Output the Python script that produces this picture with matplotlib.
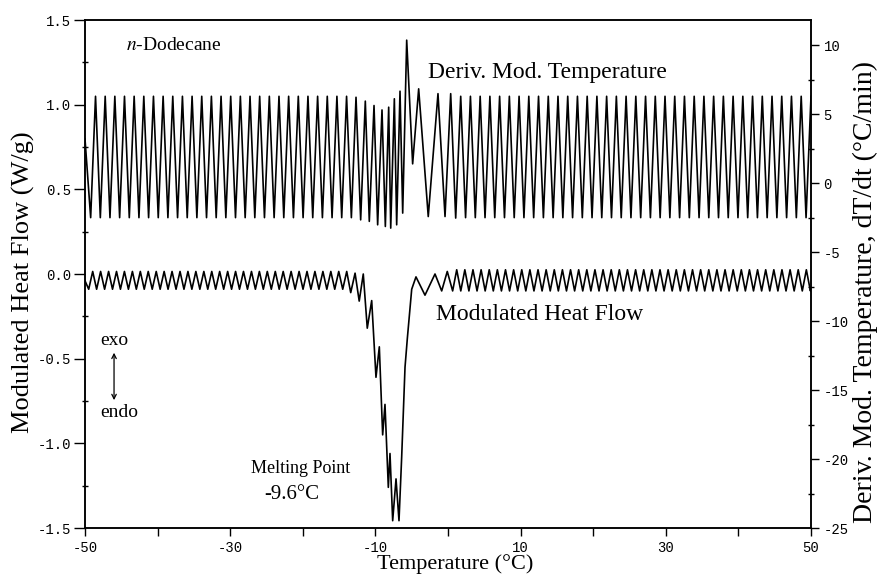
import matplotlib
matplotlib.use("Agg")
import matplotlib.pyplot as plt
from matplotlib.ticker import MultipleLocator, FixedLocator, FuncFormatter

# ---------------- data ----------------
# Deriv. Mod. Temperature (deg C/min, right axis): extrema in order
dmt_T = [
    -50.00,
    -49.22, -48.55, -47.89, -47.22, -46.56, -45.89, -45.23, -44.56, -43.90, -43.23,
    -42.57, -41.90, -41.24, -40.57, -39.91, -39.24, -38.58, -37.91, -37.25, -36.58,
    -35.92, -35.25, -34.59, -33.92, -33.26, -32.59, -31.93, -31.26, -30.60, -29.93,
    -29.27, -28.60, -27.94, -27.27, -26.61, -25.94, -25.28, -24.61, -23.95, -23.28,
    -22.62, -21.95, -21.29, -20.62, -19.96, -19.29, -18.63, -17.96, -17.30, -16.63,
    -15.97, -15.30, -14.64, -13.97, -13.31,
    -12.67, -12.03, -11.39, -10.84, -10.19, -9.69, -9.09, -8.63, -8.17, -7.89,
    -7.39, -7.07, -6.61, -6.24, -5.69, -4.87, -4.04, -2.72, -1.38, -0.41,
    0.37, 1.06,
    1.75, 2.42, 3.09, 3.76, 4.43, 5.10, 5.77, 6.44, 7.11, 7.78,
    8.45, 9.12, 9.79, 10.46, 11.13, 11.80, 12.47, 13.14, 13.81, 14.48,
    15.15, 15.82, 16.49, 17.16, 17.83, 18.50, 19.17, 19.84, 20.51, 21.18,
    21.85, 22.52, 23.19, 23.86, 24.53, 25.20, 25.87, 26.54, 27.21, 27.88,
    28.55, 29.22, 29.89, 30.56, 31.23, 31.90, 32.57, 33.24, 33.91, 34.58,
    35.25, 35.92, 36.59, 37.26, 37.93, 38.60, 39.27, 39.94, 40.61, 41.28,
    41.95, 42.62, 43.29, 43.96, 44.63, 45.30, 45.97, 46.64, 47.31, 47.98,
    48.65, 49.32, 50.00,
]
dmt_v = [
    3.2,
    -2.5, 6.3, -2.5, 6.3, -2.5, 6.3, -2.5, 6.3, -2.5, 6.3,
    -2.5, 6.3, -2.5, 6.3, -2.5, 6.3, -2.5, 6.3, -2.5, 6.3,
    -2.5, 6.3, -2.5, 6.3, -2.5, 6.3, -2.5, 6.3, -2.5, 6.3,
    -2.5, 6.3, -2.5, 6.3, -2.5, 6.3, -2.5, 6.3, -2.5, 6.3,
    -2.5, 6.3, -2.5, 6.3, -2.5, 6.3, -2.5, 6.3, -2.5, 6.3,
    -2.5, 6.3, -2.5, 6.3, -2.5,
    6.23, -2.66, 5.95, -2.77, 5.63, -3.02, 5.31, -3.14, 5.51, -3.26,
    6.12, -3.02, 6.67, -2.17, 10.37, 1.40, 6.84, -2.42, 6.49, -2.42,
    6.49, -2.53,
    6.3, -2.5, 6.3, -2.5, 6.3, -2.5, 6.3, -2.5, 6.3, -2.5,
    6.3, -2.5, 6.3, -2.5, 6.3, -2.5, 6.3, -2.5, 6.3, -2.5,
    6.3, -2.5, 6.3, -2.5, 6.3, -2.5, 6.3, -2.5, 6.3, -2.5,
    6.3, -2.5, 6.3, -2.5, 6.3, -2.5, 6.3, -2.5, 6.3, -2.5,
    6.3, -2.5, 6.3, -2.5, 6.3, -2.5, 6.3, -2.5, 6.3, -2.5,
    6.3, -2.5, 6.3, -2.5, 6.3, -2.5, 6.3, -2.5, 6.3, -2.5,
    6.3, -2.5, 6.3, -2.5, 6.3, -2.5, 6.3, -2.5, 6.3, -2.5,
    6.3, -2.5, 6.3,
]

# Modulated Heat Flow (W/g, left axis): extrema in order
mhf_T = [
    -50.00,
    -49.49, -48.94, -48.40, -47.85, -47.30, -46.75, -46.21, -45.66, -45.12, -44.57,
    -44.02, -43.47, -42.93, -42.38, -41.84, -41.29, -40.74, -40.19, -39.65, -39.10,
    -38.56, -38.01, -37.46, -36.91, -36.37, -35.82, -35.28, -34.73, -34.18, -33.63,
    -33.09, -32.54, -32.00, -31.45, -30.90, -30.35, -29.81, -29.26, -28.72, -28.17,
    -27.62, -27.07, -26.53, -25.98, -25.44, -24.89, -24.34, -23.79, -23.25, -22.70,
    -22.16, -21.61, -21.06, -20.51, -19.97, -19.42, -18.88, -18.33, -17.78, -17.23,
    -16.69, -16.14, -15.60, -15.05, -14.50, -13.95,
    -13.40, -12.80, -12.23, -11.67, -11.12, -10.51, -9.92, -9.46, -9.00, -8.68,
    -8.22, -7.99, -7.62, -7.16, -6.75, -6.38, -5.92, -5.60, -5.00, -4.41,
    -3.17, -1.79, -0.87, -0.10, 0.64,
    1.20, 1.76, 2.32, 2.88, 3.44, 4.00, 4.56, 5.12, 5.68, 6.24,
    6.80, 7.36, 7.92, 8.48, 9.04, 9.60, 10.16, 10.72, 11.28, 11.84,
    12.40, 12.96, 13.52, 14.08, 14.64, 15.20, 15.76, 16.32, 16.88, 17.44,
    18.00, 18.56, 19.12, 19.68, 20.24, 20.80, 21.36, 21.92, 22.48, 23.04,
    23.60, 24.16, 24.72, 25.28, 25.84, 26.40, 26.96, 27.52, 28.08, 28.64,
    29.20, 29.76, 30.32, 30.88, 31.44, 32.00, 32.56, 33.12, 33.68, 34.24,
    34.80, 35.36, 35.92, 36.48, 37.04, 37.60, 38.16, 38.72, 39.28, 39.84,
    40.40, 40.96, 41.52, 42.08, 42.64, 43.20, 43.76, 44.32, 44.88, 45.44,
    46.00, 46.56, 47.12, 47.68, 48.24, 48.80, 49.36, 49.92,
    50.00,
]
mhf_v = [
    -0.04,
    -0.09, 0.015, -0.09, 0.015, -0.09, 0.015, -0.09, 0.015, -0.09, 0.015,
    -0.09, 0.015, -0.09, 0.015, -0.09, 0.015, -0.09, 0.015, -0.09, 0.015,
    -0.09, 0.015, -0.09, 0.015, -0.09, 0.015, -0.09, 0.015, -0.09, 0.015,
    -0.09, 0.015, -0.09, 0.015, -0.09, 0.015, -0.09, 0.015, -0.09, 0.015,
    -0.09, 0.015, -0.09, 0.015, -0.09, 0.015, -0.09, 0.015, -0.09, 0.015,
    -0.09, 0.015, -0.09, 0.015, -0.09, 0.015, -0.09, 0.015, -0.09, 0.015,
    -0.09, 0.015, -0.09, 0.015, -0.09, 0.015,
    -0.11, 0.005, -0.16, 0.0, -0.32, -0.157, -0.61, -0.43, -0.95, -0.77,
    -1.26, -1.06, -1.457, -1.21, -1.457, -1.08, -0.55, -0.38, -0.09, -0.017,
    -0.125, 0.0, -0.10, 0.015, -0.10,
    0.025, -0.10, 0.025, -0.10, 0.025, -0.10, 0.025, -0.10, 0.025, -0.10,
    0.025, -0.10, 0.025, -0.10, 0.025, -0.10, 0.025, -0.10, 0.025, -0.10,
    0.025, -0.10, 0.025, -0.10, 0.025, -0.10, 0.025, -0.10, 0.025, -0.10,
    0.025, -0.10, 0.025, -0.10, 0.025, -0.10, 0.025, -0.10, 0.025, -0.10,
    0.025, -0.10, 0.025, -0.10, 0.025, -0.10, 0.025, -0.10, 0.025, -0.10,
    0.025, -0.10, 0.025, -0.10, 0.025, -0.10, 0.025, -0.10, 0.025, -0.10,
    0.025, -0.10, 0.025, -0.10, 0.025, -0.10, 0.025, -0.10, 0.025, -0.10,
    0.025, -0.10, 0.025, -0.10, 0.025, -0.10, 0.025, -0.10, 0.025, -0.10,
    0.025, -0.10, 0.025, -0.10, 0.025, -0.10, 0.025, -0.10,
    -0.08,
]

x_major = [-50, -30, -10, 10, 30, 50]
x_minor = [-40, -20, 0, 20, 40]
left_ticks = [-1.5, -1.0, -0.5, 0.0, 0.5, 1.0, 1.5]
right_ticks = [-25, -20, -15, -10, -5, 0, 5, 10]

# ---------------- style ----------------
plt.rcParams['axes.unicode_minus'] = False
plt.rcParams['mathtext.fontset'] = 'stix'
SERIF = ['Liberation Serif', 'DejaVu Serif']
MONO = ['Liberation Mono', 'DejaVu Sans Mono']

fig = plt.figure(figsize=(8.87, 5.76), dpi=100)
ax = fig.add_axes([85 / 887, 1 - 528 / 576, (811 - 85) / 887, (528 - 20) / 576])
ax2 = ax.twinx()

ax.plot(mhf_T, mhf_v, color='black', lw=1.2, solid_joinstyle='round')
ax2.plot(dmt_T, dmt_v, color='black', lw=1.2, solid_joinstyle='round')

ax.set_xlim(-50, 50)
ax.set_ylim(-1.5, 1.5)
ax2.set_ylim(-25, 11.83)

ax.xaxis.set_major_locator(FixedLocator(x_major))
ax.xaxis.set_minor_locator(FixedLocator(x_minor))
ax.xaxis.set_major_formatter(FuncFormatter(lambda v, p: f"{v:.0f}"))
ax.yaxis.set_major_locator(FixedLocator(left_ticks))
ax.yaxis.set_minor_locator(MultipleLocator(0.25))
ax.yaxis.set_major_formatter(FuncFormatter(lambda v, p: f"{v:.1f}"))
ax2.yaxis.set_major_locator(FixedLocator(right_ticks))
ax2.yaxis.set_minor_locator(MultipleLocator(2.5))
ax2.yaxis.set_major_formatter(FuncFormatter(lambda v, p: f"{v:.0f}"))

for a in (ax, ax2):
    for s in a.spines.values():
        s.set_linewidth(1.1)
ax.tick_params(axis='x', which='both', direction='out', length=6, width=1.0, pad=3)
ax.tick_params(axis='y', which='major', direction='out', length=8, width=1.0, pad=2)
ax.tick_params(axis='y', which='minor', direction='inout', length=5, width=1.0)
ax2.tick_params(axis='y', which='major', direction='out', length=6, width=1.0, pad=3)
ax2.tick_params(axis='y', which='minor', direction='inout', length=5, width=1.0)
for lab in ax.get_xticklabels() + ax.get_yticklabels() + ax2.get_yticklabels():
    lab.set_family(MONO)
    lab.set_fontsize(10)

ax.set_xlabel('Temperature (°C)', family=SERIF, fontsize=16)
ax.xaxis.set_label_coords(0.51, -0.052)
ax.set_ylabel('Modulated Heat Flow (W/g)', family=SERIF, fontsize=19)
ax.yaxis.set_label_coords(-0.069, 0.484)
ax2.set_ylabel('Deriv. Mod. Temperature, dT/dt (°C/min)', family=SERIF, fontsize=20,
               rotation=90)
ax2.yaxis.set_label_coords(1.058, 0.465)

ax.text(-44.3, 1.35, r'$n$-Dodecane', family=SERIF, fontsize=14, va='center', ha='left')
ax.text(-2.8, 1.19, 'Deriv. Mod. Temperature', family=SERIF, fontsize=17, va='center', ha='left')
ax.text(-1.7, -0.24, 'Modulated Heat Flow', family=SERIF, fontsize=17, va='center', ha='left')
ax.text(-46.0, -0.39, 'exo', family=SERIF, fontsize=14, va='center', ha='center')
ax.text(-45.3, -0.82, 'endo', family=SERIF, fontsize=14, va='center', ha='center')
ax.annotate('', xy=(-46.0, -0.465), xytext=(-46.0, -0.745),
            arrowprops=dict(arrowstyle='<->', lw=0.9, color='black',
                            shrinkA=0, shrinkB=0, mutation_scale=8))
ax.text(-20.3, -1.15, 'Melting Point', family=SERIF, fontsize=13, va='center', ha='center')
ax.text(-21.5, -1.30, '-9.6°C', family=SERIF, fontsize=15, va='center', ha='center')

fig.savefig('out.png', dpi=100)
